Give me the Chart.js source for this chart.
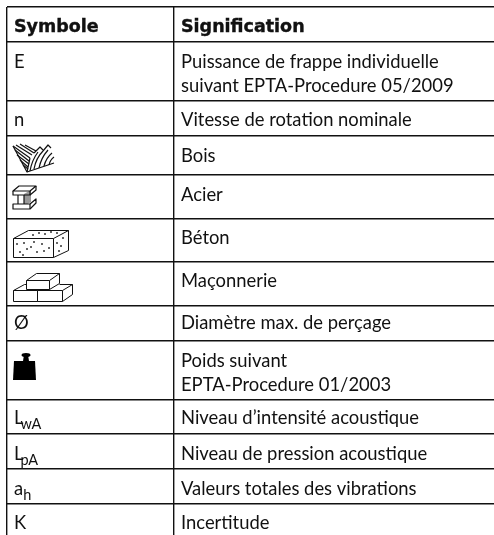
<!DOCTYPE html>
<html lang="fr">
<head>
<meta charset="utf-8">
<title>Symboles</title>
<script src="https://cdn.jsdelivr.net/npm/chart.js"></script>
<style>
    html, body { margin: 0; padding: 0; background: #fff; overflow: hidden; }
    canvas { display: block; }
</style>
</head>
<body>
<canvas id="table" width="494" height="535"></canvas>
<script>
const headers = ['Symbole', 'Signification'];
const columnEdges = [0, 167];
const rowEdges = [0, 35, 94, 129, 168, 212, 255, 299, 334, 393, 427, 462, 497];
const symbols = ['E', 'n', '', '', '', '', 'Ø', '', 'L', 'L', 'a', 'K'];
const subscripts = ['', '', '', '', '', '', '', '', 'wA', 'pA', 'h', ''];
const icons = ['', '', 'bois', 'acier', 'beton', 'maconnerie', '', 'poids', '', '', '', ''];
const meanings = [
    ['Puissance de frappe individuelle', 'suivant EPTA-Procedure 05/2009'],
    ['Vitesse de rotation nominale'],
    ['Bois'],
    ['Acier'],
    ['Béton'],
    ['Maçonnerie'],
    ['Diamètre max. de perçage'],
    ['Poids suivant', 'EPTA-Procedure 01/2003'],
    ['Niveau d’intensité acoustique'],
    ['Niveau de pression acoustique'],
    ['Valeurs totales des vibrations'],
    ['Incertitude']
];

const ICON_W = 70, ICON_H = 44;
const BODY_FONT = '18.4px Lato';
const SUB_FONT = '14.5px Lato';
const HEAD_FONT = 'bold 17.5px "DejaVu Sans"';
// distance ligne de base / filet du haut, ligne par ligne
const BASELINES = [26, 25, 26, 26, 25, 25, 23, 26, 24, 26, 26, 25];

const line = (c, pts, close) => {
    c.beginPath();
    pts.forEach((p, i) => i ? c.lineTo(p[0], p[1]) : c.moveTo(p[0], p[1]));
    if (close) c.closePath();
    return c;
};

// petits dessins des matériaux, coordonnées locales a la cellule
const iconDrawers = {
    bois: (c) => {
        c.lineWidth = 1.2;
        line(c, [[6, 10], [20, 36], [47, 27]]).stroke();
        line(c, [[20, 36], [23, 22]]).stroke();
        [[[6, 10], [23, 22]], [[9, 9], [25, 19]], [[13, 8], [27, 17]], [[18, 9], [29, 15]],
         [[8, 14], [22, 25]], [[10, 19], [22, 28]], [[13, 24], [21, 31]], [[16, 29], [21, 33]]]
            .forEach(s => line(c, s).stroke());
        [[23, 35, 25, 24, 31, 16], [27, 33, 29, 22, 36, 15], [32, 32, 34, 22, 41, 14], [37, 30, 39, 22, 45, 17], [42, 29, 43, 24, 47, 21]]
            .forEach(q => {
                c.beginPath();
                c.moveTo(q[0], q[1]);
                c.quadraticCurveTo(q[2], q[3], q[4], q[5]);
                c.stroke();
            });
        line(c, [[27, 17], [33, 11], [36, 14]]).stroke();
        line(c, [[36, 15], [41, 9], [44, 12]]).stroke();
    },
    acier: (c) => {
        c.lineWidth = 1.2;
        c.fillStyle = '#999';
        line(c, [[17, 19], [24, 15], [24, 27], [17, 31]], true).fill();
        c.fillStyle = '#fff';
        line(c, [[6, 16], [12, 11], [29, 11], [23, 16]], true).fill();
        c.stroke();
        line(c, [[6, 16], [6, 20], [23, 20], [23, 16]]).stroke();
        line(c, [[23, 20], [29, 15], [29, 11]]).stroke();
        line(c, [[11, 20], [11, 29]]).stroke();
        line(c, [[17, 20], [17, 29]]).stroke();
        c.fillStyle = '#fff';
        line(c, [[6, 29], [23, 29], [29, 24], [29, 28], [23, 34], [6, 34]], true).fill();
        c.stroke();
        line(c, [[23, 29], [23, 34]]).stroke();
    },
    beton: (c) => {
        c.lineWidth = 1;
        c.strokeRect(6.5, 19.5, 40, 19);
        line(c, [[6.5, 19.5], [21.5, 11.5], [61.5, 11.5], [46.5, 19.5]]).stroke();
        line(c, [[61.5, 11.5], [61.5, 31.5], [46.5, 38.5]]).stroke();
        c.fillStyle = '#333';
        [[10, 25], [13, 33], [17, 24], [20, 30], [24, 28], [27, 23], [30, 33], [35, 25], [37, 32], [42, 29],
         [50, 24], [52, 32], [56, 19], [54, 27], [26, 16], [32, 14], [38, 15], [44, 13], [50, 14], [16, 36]]
            .forEach(d => { c.beginPath(); c.arc(d[0], d[1], 1, 0, 7); c.fill(); });
    },
    maconnerie: (c) => {
        c.lineWidth = 1;
        c.strokeRect(6.5, 28.5, 24, 11);
        c.strokeRect(30.5, 28.5, 25, 11);
        line(c, [[6.5, 28.5], [17.5, 22.5], [19.5, 22.5]]).stroke();
        line(c, [[52.5, 22.5], [65.5, 22.5], [65.5, 32.5], [55.5, 39.5]]).stroke();
        line(c, [[55.5, 28.5], [65.5, 22.5]]).stroke();
        c.strokeRect(19.5, 18.5, 23, 9);
        line(c, [[19.5, 18.5], [29.5, 11.5], [52.5, 11.5], [42.5, 18.5]]).stroke();
        line(c, [[52.5, 11.5], [52.5, 21.5], [42.5, 27.5]]).stroke();
    },
    poids: (c) => {
        c.fillStyle = '#000';
        line(c, [[7, 20], [28, 20], [29, 39], [6, 39]], true).fill();
        line(c, [[17, 14], [21, 14], [22, 20], [16, 20]], true).fill();
        c.beginPath();
        c.ellipse(19, 14, 4.5, 2, 0, 0, 7);
        c.fill();
    }
};

const makeIcon = (name) => {
    const cv = document.createElement('canvas');
    cv.width = ICON_W;
    cv.height = ICON_H;
    const c = cv.getContext('2d');
    c.strokeStyle = '#111';
    c.lineJoin = 'round';
    iconDrawers[name](c);
    return cv;
};

const iconRows = icons.map((name, i) => ({ name, i })).filter(r => r.name);
const iconStyles = iconRows.map(r => makeIcon(r.name));
const iconPoints = iconRows.map(r => ({ x: ICON_W / 2, y: rowEdges[r.i + 1] + ICON_H / 2 }));

const tableText = {
    id: 'tableText',
    afterDatasetsDraw(chart) {
        const { ctx, scales: { x, y } } = chart;
        const symX = x.getPixelForValue(columnEdges[0]) + 7;
        const textX = x.getPixelForValue(columnEdges[1]) + 7;
        ctx.save();
        ctx.fillStyle = '#111';
        ctx.strokeStyle = '#111';
        ctx.textBaseline = 'alphabetic';

        ctx.font = HEAD_FONT;
        ctx.lineWidth = 0.4;
        headers.forEach((h, i) => {
            const hx = i ? textX : symX;
            const hy = y.getPixelForValue(rowEdges[0]) + 25;
            ctx.fillText(h, hx, hy);
            ctx.strokeText(h, hx, hy);
        });

        meanings.forEach((lines, i) => {
            const base = y.getPixelForValue(rowEdges[i + 1]) + BASELINES[i];
            ctx.font = BODY_FONT;
            lines.forEach((t, k) => ctx.fillText(t, textX, base + k * 24));
            if (symbols[i]) {
                ctx.fillText(symbols[i], symX, base);
                if (subscripts[i]) {
                    // le L laisse de la place a droite, l'indice rentre dessous
                    const w = ctx.measureText(symbols[i]).width - (symbols[i] === 'L' ? 3 : 0);
                    ctx.font = SUB_FONT;
                    ctx.fillText(subscripts[i], symX + w, base + 5);
                }
            }
        });
        ctx.restore();
    }
};

new Chart(document.getElementById('table'), {
    type: 'scatter',
    data: {
        datasets: [{
            data: iconPoints,
            showLine: false,
            pointRadius: 1,
            pointStyle: (context) => iconStyles[context.dataIndex]
        }]
    },
    options: {
        responsive: false,
        animation: false,
        events: [],
        layout: { autoPadding: false, padding: { left: 7, top: 7, right: 0, bottom: 0 } },
        plugins: { legend: { display: false }, tooltip: { enabled: false } },
        scales: {
            x: {
                type: 'linear',
                min: 0,
                max: 487,
                afterBuildTicks: (s) => { s.ticks = columnEdges.map(v => ({ value: v })); },
                grid: { color: '#111', lineWidth: 1.4, drawTicks: false },
                border: { display: false },
                ticks: { display: false }
            },
            y: {
                type: 'linear',
                reverse: true,
                min: 0,
                max: 528,
                afterBuildTicks: (s) => { s.ticks = rowEdges.map(v => ({ value: v })); },
                grid: { color: '#111', lineWidth: 1.4, drawTicks: false },
                border: { display: false },
                ticks: { display: false }
            }
        }
    },
    plugins: [tableText]
});
</script>
</body>
</html>
